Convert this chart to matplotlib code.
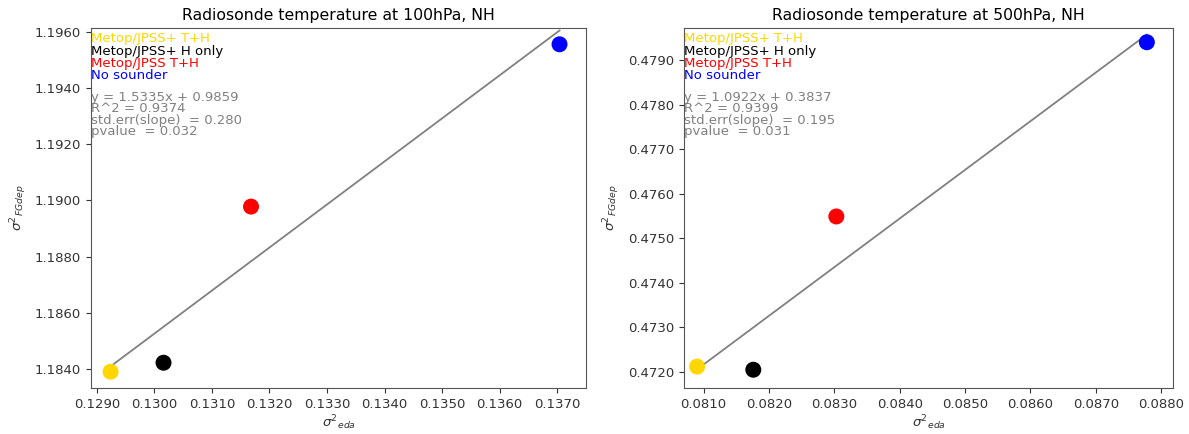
import numpy as np
import matplotlib.pyplot as plt

# variance of EDA spread vs variance of FG departures, per observing system experiment
labels = ["Metop/JPSS+ T+H", "Metop/JPSS+ H only", "Metop/JPSS T+H", "No sounder"]
colours = ["gold", "black", "red", "blue"]

eda_100 = [0.12924, 0.13016, 0.13168, 0.13704]
fgdep_100 = [1.18390, 1.18422, 1.18978, 1.19556]
fit_100 = dict(slope=1.5335, icpt=0.9859, r2=0.9374, stderr=0.280, p=0.032)

eda_500 = [0.08090, 0.08176, 0.08303, 0.08778]
fgdep_500 = [0.47212, 0.47205, 0.47549, 0.47940]
fit_500 = dict(slope=1.0922, icpt=0.3837, r2=0.9399, stderr=0.195, p=0.031)

fig = plt.figure(figsize=(11.89, 4.34), dpi=100)
ax1 = fig.add_axes([91 / 1189, 46 / 434, 495 / 1189, 360 / 434])
ax2 = fig.add_axes([684 / 1189, 46 / 434, 489 / 1189, 360 / 434])


def draw_panel(ax, x, y, fit, level, xlim, ylim):
    x = np.array(x)
    xs = np.array([x.min(), x.max()])
    ax.plot(xs, fit["slope"] * xs + fit["icpt"], color="grey", lw=1.3, zorder=1)
    ax.scatter(x, y, c=colours, s=110, zorder=2)

    # colour key written as text in the top left corner
    for i, (lab, col) in enumerate(zip(labels, colours)):
        ax.text(0.0, 0.988 - i * 0.034, lab, color=col, fontsize=9.5,
                transform=ax.transAxes, va="top", ha="left")
    stats = ["y = %.4fx + %.4f" % (fit["slope"], fit["icpt"]),
             "R^2 = %.4f" % fit["r2"],
             "std.err(slope)  = %.3f" % fit["stderr"],
             "pvalue  = %.3f" % fit["p"]]
    for i, s in enumerate(stats):
        ax.text(0.0, 0.826 - i * 0.032, s, color="grey", fontsize=9.5,
                transform=ax.transAxes, va="top", ha="left")

    ax.set_xlim(*xlim)
    ax.set_ylim(*ylim)
    ax.xaxis.set_major_formatter(plt.FormatStrFormatter("%.4f"))
    ax.yaxis.set_major_formatter(plt.FormatStrFormatter("%.4f"))
    ax.tick_params(labelsize=9.5, colors="#333333")
    for sp in ax.spines.values():
        sp.set_color("#555555")
    ax.set_title("Radiosonde temperature at %s, NH" % level, fontsize=11.3)
    ax.set_xlabel(r"$\sigma^2{}_{eda}$", fontsize=9.5, color="#333333", labelpad=2)
    ax.set_ylabel(r"$\sigma^2{}_{FGdep}$", fontsize=9.5, color="#333333")


draw_panel(ax1, eda_100, fgdep_100, fit_100, "100hPa",
           (0.12890, 0.13750), (1.18332, 1.19614))
ax1.set_xticks(np.arange(0.129, 0.13701, 0.001))
ax1.set_yticks(np.arange(1.184, 1.19601, 0.002))

draw_panel(ax2, eda_500, fgdep_500, fit_500, "500hPa",
           (0.08070, 0.08818), (0.47164, 0.47972))
ax2.set_xticks(np.arange(0.081, 0.08801, 0.001))
ax2.set_yticks(np.arange(0.472, 0.47901, 0.001))

fig.savefig("out.png", dpi=100)
